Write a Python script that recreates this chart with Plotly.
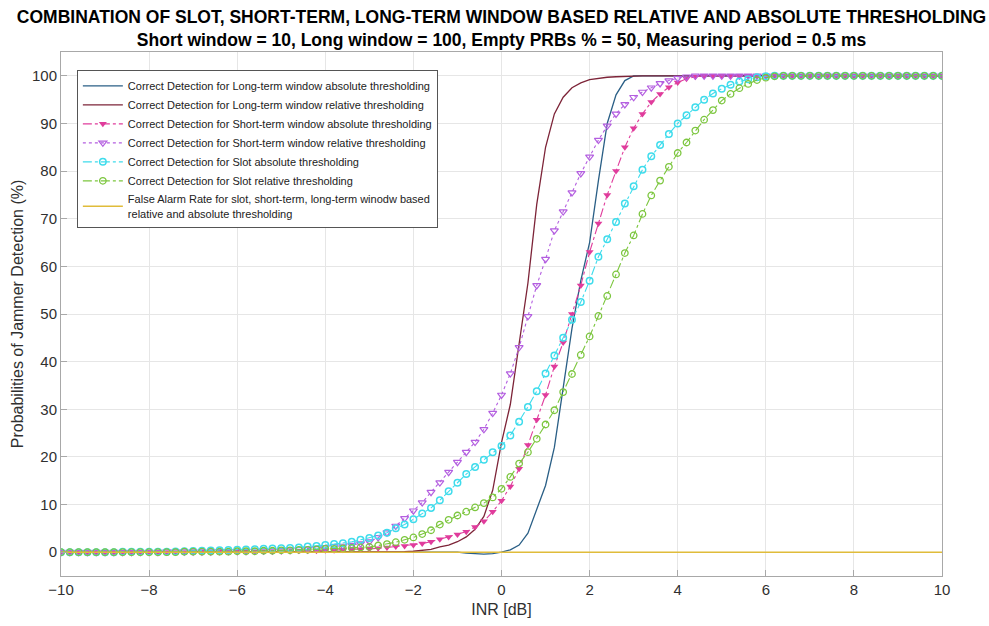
import numpy as np
import plotly.graph_objects as go

# INR grid (dB)
inr = np.round(np.arange(-10, 10.0001, 0.2), 1).tolist()

long_abs = [
    0, 0, 0, 0, 0, 0, 0, 0, 0, 0,
    0, 0, 0, 0, 0, 0, 0, 0, 0, 0,
    0, 0, 0, 0, 0, 0, 0, 0, 0, 0,
    0, 0, 0, 0, 0, 0, 0, 0, 0, 0,
    0, 0, 0, 0, 0, 0, -0.2, -0.3, -0.4, -0.3,
    0.0, 0.5, 1.5, 4.0, 8.8, 14, 22, 35, 47, 57,
    65, 78, 90, 96, 99, 100, 100, 100, 100, 100,
    100, 100, 100, 100, 100, 100, 100, 100, 100, 100,
    100, 100, 100, 100, 100, 100, 100, 100, 100, 100,
    100, 100, 100, 100, 100, 100, 100, 100, 100, 100,
    100,
]

long_rel = [
    0, 0, 0, 0, 0, 0, 0, 0, 0, 0,
    0, 0, 0, 0, 0, 0, 0, 0, 0, 0,
    0, 0, 0, 0, 0, 0, 0, 0, 0, 0,
    0, 0, 0, 0, 0, 0, 0, 0, 0, 0.1,
    0.2, 0.4, 0.6, 1.1, 1.5, 2.2, 3.2, 4.8, 7.5, 13,
    23, 31, 44, 56.5, 73, 85, 92, 95.5, 97.5, 98.5,
    99.2, 99.5, 99.7, 99.8, 99.9, 100, 100, 100, 100, 100,
    100, 100, 100, 100, 100, 100, 100, 100, 100, 100,
    100, 100, 100, 100, 100, 100, 100, 100, 100, 100,
    100, 100, 100, 100, 100, 100, 100, 100, 100, 100,
    100,
]

short_abs = [
    0, 0, 0, 0, 0, 0, 0, 0, 0, 0,
    0, 0, 0, 0, 0, 0.1, 0.1, 0.1, 0.1, 0.1,
    0.1, 0.1, 0.1, 0.2, 0.2, 0.2, 0.2, 0.3, 0.3, 0.3,
    0.4, 0.4, 0.5, 0.6, 0.6, 0.7, 0.8, 1.0, 1.2, 1.3,
    1.5, 1.8, 2.2, 2.7, 3.2, 3.7, 4.3, 5.3, 6.5, 8.5,
    10.8, 13.8, 17.5, 22.5, 27.8, 33, 39, 44, 50, 56,
    63, 69, 75, 80, 85, 89, 92, 94.5, 96.2, 97.6,
    98.6, 99.4, 99.8, 100, 100, 100, 100, 100, 100, 100,
    100, 100, 100, 100, 100, 100, 100, 100, 100, 100,
    100, 100, 100, 100, 100, 100, 100, 100, 100, 100,
    100,
]

short_rel = [
    0, 0, 0, 0, 0, 0, 0, 0, 0, 0,
    0, 0, 0.1, 0.1, 0.1, 0.1, 0.1, 0.1, 0.2, 0.2,
    0.2, 0.2, 0.3, 0.3, 0.3, 0.4, 0.5, 0.6, 0.7, 0.8,
    1.0, 1.2, 1.3, 1.5, 1.8, 2.2, 3.1, 4.1, 5.5, 7.1,
    8.7, 10.4, 12.6, 14.6, 16.8, 18.9, 21.0, 23.1, 25.8, 29.2,
    33, 37.5, 43, 49.5, 56, 61.5, 67.5, 71.5, 75.5, 79.5,
    83, 86.5, 89.5, 92, 94, 95.5, 96.6, 97.5, 98.4, 99.0,
    99.5, 99.8, 100, 100, 100, 100, 100, 100, 100, 100,
    100, 100, 100, 100, 100, 100, 100, 100, 100, 100,
    100, 100, 100, 100, 100, 100, 100, 100, 100, 100,
    100,
]

slot_abs = [
    0, 0, 0, 0, 0, 0, 0, 0.1, 0.1, 0.1,
    0.1, 0.1, 0.1, 0.15, 0.2, 0.25, 0.3, 0.35, 0.4, 0.45,
    0.5, 0.55, 0.6, 0.7, 0.75, 0.8, 0.9, 1.0, 1.2, 1.3,
    1.5, 1.7, 1.9, 2.2, 2.6, 3.0, 3.5, 4.1, 5.0, 5.8,
    6.9, 8.1, 9.3, 10.9, 12.8, 14.6, 16.4, 17.9, 19.4, 21.0,
    22.3, 24.5, 27.4, 30.5, 33.8, 37.5, 41.3, 45.0, 48.8, 52.5,
    57.0, 62.0, 65.7, 69.3, 73.2, 76.8, 80.3, 83.1, 85.5, 87.8,
    90.0, 91.7, 93.4, 95.0, 96.3, 97.3, 98.1, 98.8, 99.3, 99.7,
    99.9, 100, 100, 100, 100, 100, 100, 100, 100, 100,
    100, 100, 100, 100, 100, 100, 100, 100, 100, 100,
    100,
]

slot_rel = [
    0, 0, 0, 0, 0, 0, 0, 0, 0, 0,
    0, 0, 0, 0, 0.1, 0.1, 0.1, 0.1, 0.1, 0.1,
    0.2, 0.2, 0.2, 0.3, 0.3, 0.4, 0.4, 0.5, 0.5, 0.6,
    0.7, 0.7, 0.8, 0.9, 1.0, 1.1, 1.4, 1.7, 2.1, 2.6,
    3.1, 3.8, 4.6, 5.8, 6.8, 7.7, 8.5, 9.4, 10.3, 11.5,
    13.3, 15.8, 18.6, 21.0, 23.8, 26.8, 29.8, 33.6, 37.4, 41.4,
    45.3, 49.6, 53.8, 58.3, 62.8, 66.5, 71.0, 74.9, 78.0, 80.9,
    83.8, 86.0, 88.5, 90.8, 92.8, 94.8, 96.2, 97.4, 98.3, 99.1,
    99.6, 99.9, 100, 100, 100, 100, 100, 100, 100, 100,
    100, 100, 100, 100, 100, 100, 100, 100, 100, 100,
    100,
]

false_alarm = [
    0, 0, 0, 0, 0, 0, 0, 0, 0, 0,
    0, 0, 0, 0, 0, 0, 0, 0, 0, 0,
    0, 0, 0, 0, 0, 0, 0, 0, 0, 0,
    0, 0, 0, 0, 0, 0, 0, 0, 0, 0,
    0, 0, 0, 0, 0, 0, 0, 0, 0, 0,
    0, 0, 0, 0, 0, 0, 0, 0, 0, 0,
    0, 0, 0, 0, 0, 0, 0, 0, 0, 0,
    0, 0, 0, 0, 0, 0, 0, 0, 0, 0,
    0, 0, 0, 0, 0, 0, 0, 0, 0, 0,
    0, 0, 0, 0, 0, 0, 0, 0, 0, 0,
    0,
]

names = [
    "Correct Detection for Long-term window absolute thresholding",
    "Correct Detection for Long-term window relative thresholding",
    "Correct Detection for Short-term window absolute thresholding",
    "Correct Detection for Short-term window relative thresholding",
    "Correct Detection for Slot absolute thresholding",
    "Correct Detection for Slot relative thresholding",
    "False Alarm Rate for slot, short-term, long-term winodw based<br>relative and absolute thresholding",
]

FONT = "Liberation Sans, Arial"

fig = go.Figure()

fig.add_trace(go.Scatter(x=inr, y=long_abs, name=names[0], mode="lines",
                         line=dict(color="#2a5f86", width=1.3)))
fig.add_trace(go.Scatter(x=inr, y=long_rel, name=names[1], mode="lines",
                         line=dict(color="#7d2438", width=1.3)))
fig.add_trace(go.Scatter(x=inr, y=short_abs, name=names[2], mode="lines+markers",
                         line=dict(color="#e03c9c", width=1.1, dash="dashdot"),
                         marker=dict(symbol="triangle-down", size=7, color="#e03c9c")))
fig.add_trace(go.Scatter(x=inr, y=short_rel, name=names[3], mode="lines+markers",
                         line=dict(color="#b45fe0", width=1.1, dash="dot"),
                         marker=dict(symbol="triangle-down-open", size=7, color="#b45fe0",
                                     line=dict(width=1.2))))
fig.add_trace(go.Scatter(x=inr, y=slot_abs, name=names[4], mode="lines+markers",
                         line=dict(color="#3fdcec", width=1.1, dash="dashdot"),
                         marker=dict(symbol="circle-open", size=6.5, color="#3fdcec",
                                     line=dict(width=1.5))))
fig.add_trace(go.Scatter(x=inr, y=slot_rel, name=names[5], mode="lines+markers",
                         line=dict(color="#7cc63e", width=1.1, dash="dashdot"),
                         marker=dict(symbol="circle-open", size=6.5, color="#7cc63e",
                                     line=dict(width=1.3))))
fig.add_trace(go.Scatter(x=inr, y=false_alarm, name=names[6], mode="lines",
                         line=dict(color="#e0bc3a", width=1.5)))

axis_common = dict(
    showgrid=True, gridcolor="#e6e6e6", gridwidth=1,
    showline=True, linecolor="#a8a8a8", linewidth=1, mirror=True,
    ticks="inside", ticklen=6, tickcolor="#a8a8a8",
    zeroline=False,
    tickfont=dict(family=FONT, size=15, color="#303030"),
)

fig.update_xaxes(range=[-10, 10], dtick=2, tick0=-10,
                 title=dict(text="INR [dB]", font=dict(family=FONT, size=16, color="#303030"),
                            standoff=6),
                 **axis_common)
fig.update_yaxes(range=[-5, 105], dtick=10, tick0=0,
                 title=dict(text="Probabilities of Jammer Detection (%)",
                            font=dict(family=FONT, size=16, color="#303030"),
                            standoff=4),
                 **axis_common)

fig.update_layout(
    width=989, height=626,
    margin=dict(l=61, r=47, t=52, b=50),
    paper_bgcolor="white", plot_bgcolor="white",
    title=dict(
        text="<b>COMBINATION OF SLOT, SHORT-TERM, LONG-TERM WINDOW BASED RELATIVE AND ABSOLUTE THRESHOLDING</b><br>"
             "<b>Short window = 10, Long window = 100, Empty PRBs % = 50, Measuring period = 0.5 ms</b>",
        x=0.5, xanchor="center", xref="paper",
        y=0.963, yanchor="middle", yref="container",
        font=dict(family=FONT, size=17.5, color="#000000"),
    ),
    legend=dict(
        x=0.018, y=0.965, xanchor="left", yanchor="top",
        bgcolor="white", bordercolor="#555555", borderwidth=1,
        font=dict(family=FONT, size=11, color="#222222"),
        tracegroupgap=0, itemwidth=40,
    ),
    showlegend=True,
)

fig.write_html("out.html")
